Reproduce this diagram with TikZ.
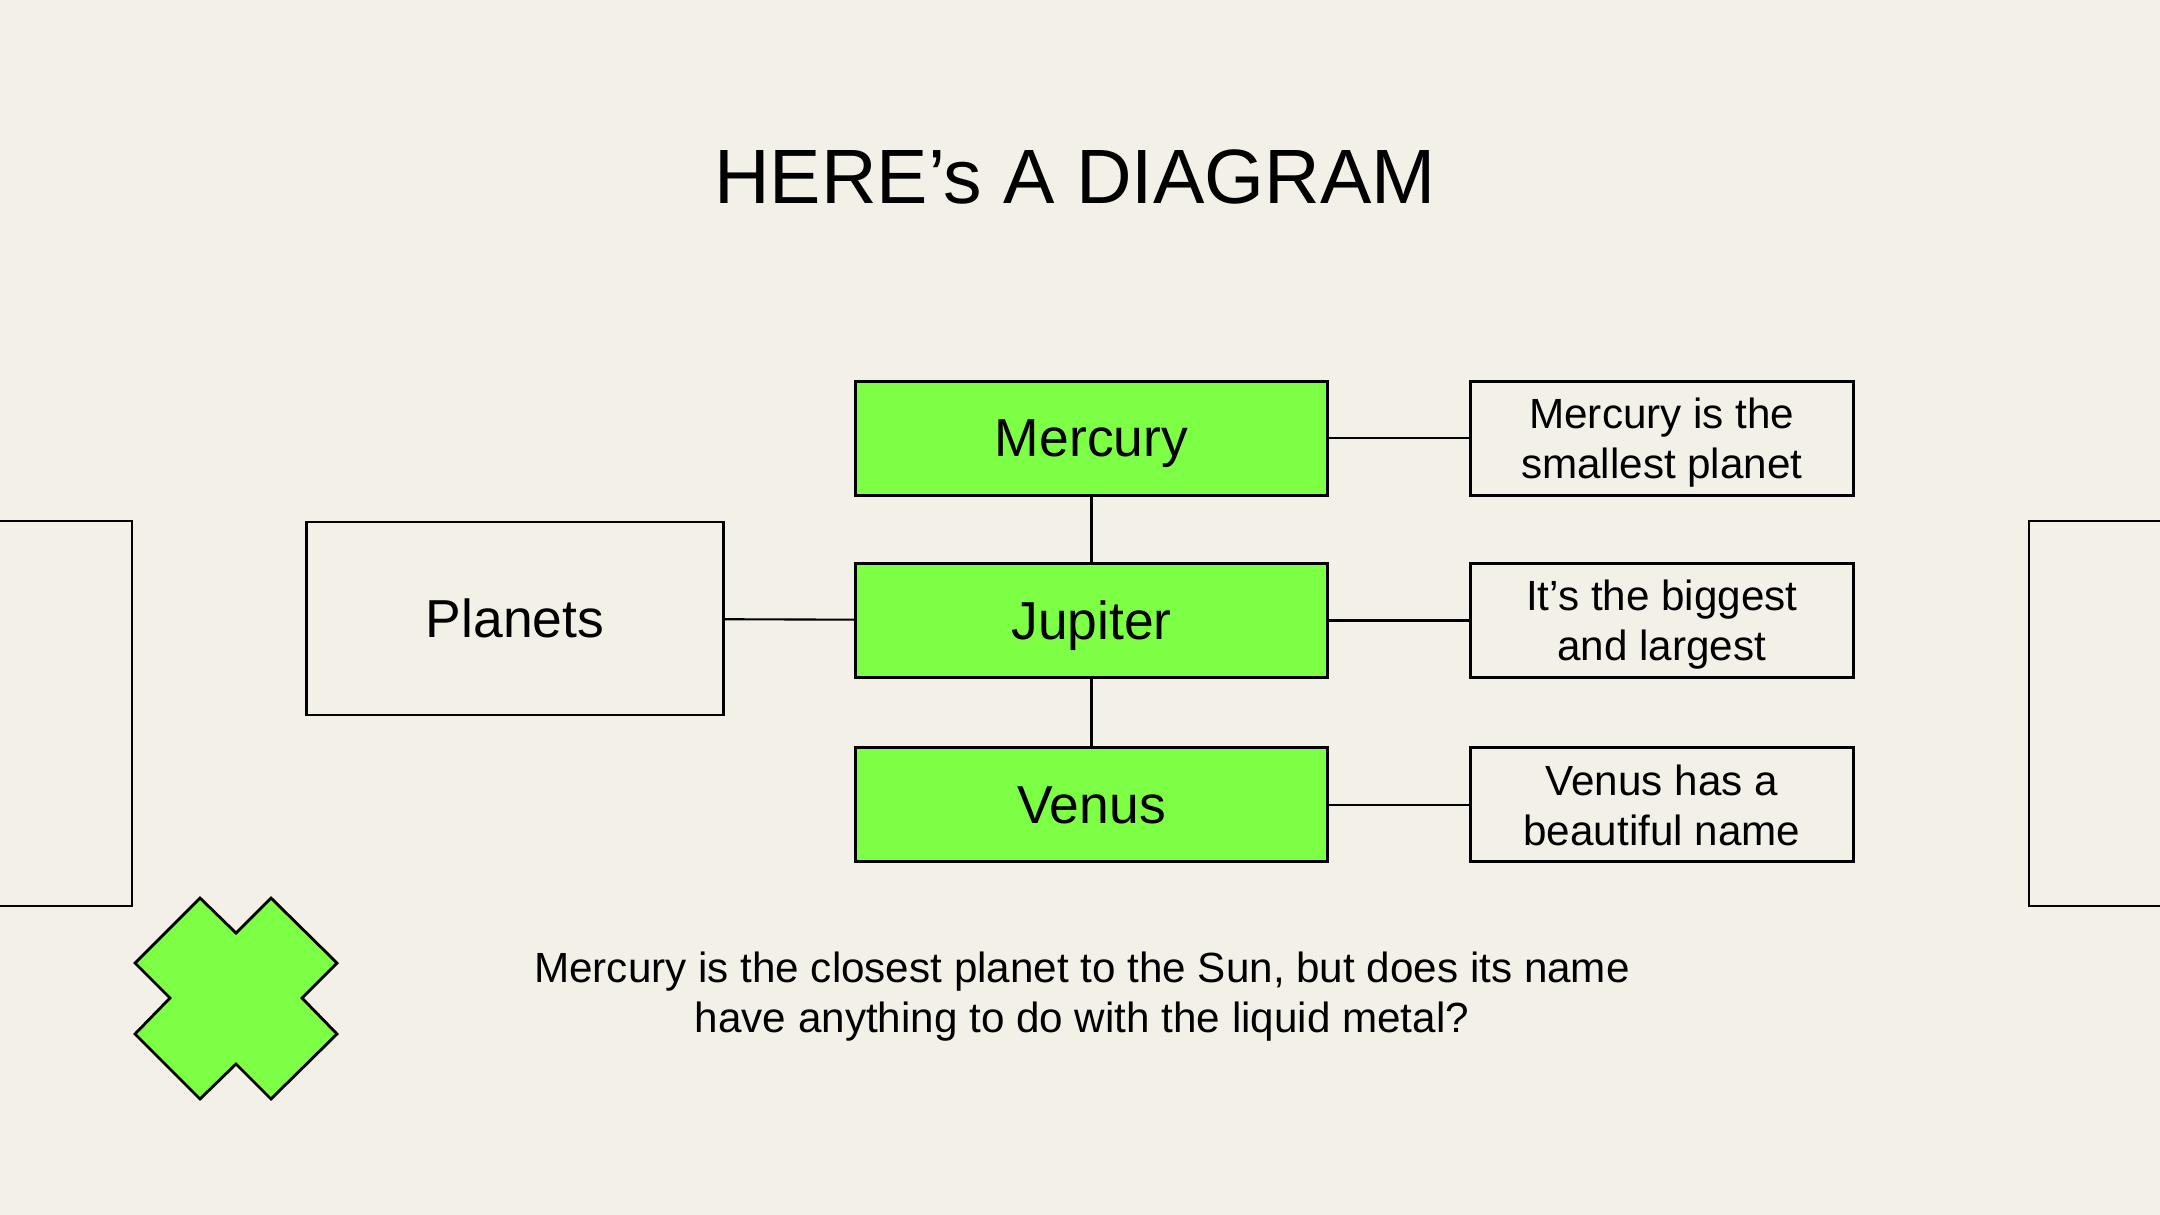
\documentclass[tikz,border=0pt]{standalone}
\usepackage{fontspec}
\setmainfont{Liberation Sans}
\usetikzlibrary{positioning}
\definecolor{paperbeige}{RGB}{242,240,231}
\definecolor{planetgreen}{RGB}{124,255,69}

\begin{document}
\begin{tikzpicture}[
  x=0.01cm, y=-0.01cm,
  greenbox/.style={draw, line width=0.9pt, fill=planetgreen, inner sep=0pt,
    minimum width=4.71cm, minimum height=1.14cm, text depth=0pt,
    font=\fontsize{15.2}{18}\selectfont},
  notebox/.style={draw, line width=0.8pt, inner sep=0pt, align=center,
    minimum width=3.83cm, minimum height=1.14cm, text depth=0pt,
    font=\fontsize{12}{14.2}\selectfont},
  frame/.style={draw, line width=0.8pt},
  link/.style={line width=0.6pt},
]
\fill[paperbeige] (0,0) rectangle (2160,1215);
\useasboundingbox (0,0) rectangle (2160,1215);

% ---- title ----
\node[anchor=base, font=\fontsize{21.9}{26}\selectfont] (title) at (1075,203)
  {HERE’s A DIAGRAM};

% ---- centre column ----
\node[greenbox] (jupiter) at (1091.5,620.5) {Jupiter};
\node[greenbox, above=0.65cm of jupiter] (mercury) {Mercury};
\node[greenbox, below=0.67cm of jupiter] (venus) {Venus};

% ---- left: the category ----
\node[frame, inner sep=0pt, minimum width=4.16cm, minimum height=1.93cm,
  font=\fontsize{15.2}{18}\selectfont] (planets) at (515,618.5) {Planets};

% ---- right: the notes ----
\node[notebox, right=1.40cm of mercury] (mnote) {Mercury is the\\smallest planet};
\node[notebox, right=1.40cm of jupiter] (jnote) {It’s the biggest\\and largest};
\node[notebox, right=1.40cm of venus] (vnote) {Venus has a\\beautiful name};

% ---- connectors ----
\draw[link] (planets) -- (jupiter);
\draw[link] (mercury) -- (jupiter);
\draw[link] (jupiter) -- (venus);
\draw[link] (mercury) -- (mnote);
\draw[link] (jupiter) -- (jnote);
\draw[link] (venus) -- (vnote);

% ---- bottom caption ----
\node[align=center, font=\fontsize{12}{14.2}\selectfont, anchor=base]
  (caption) at (1082,1032)
  {Mercury is the closest planet to the Sun, but does its name\\
   have anything to do with the liquid metal?};

% ---- side frames, cut by the page ----
\draw[line width=0.8pt] (-10,521) -- (132,521) -- (132,906) -- (-10,906);
\draw[line width=0.8pt] (2170,521) -- (2029,521) -- (2029,906) -- (2170,906);

% ---- green cross ----
\draw[line width=0.8pt, fill=planetgreen, line join=miter]
  (200,898) -- (236,933) -- (271,898) -- (337,963) -- (302,998)
  -- (337,1034) -- (271,1099) -- (236,1064) -- (200,1099)
  -- (135,1034) -- (170,998) -- (135,963) -- cycle;
\end{tikzpicture}
\end{document}
